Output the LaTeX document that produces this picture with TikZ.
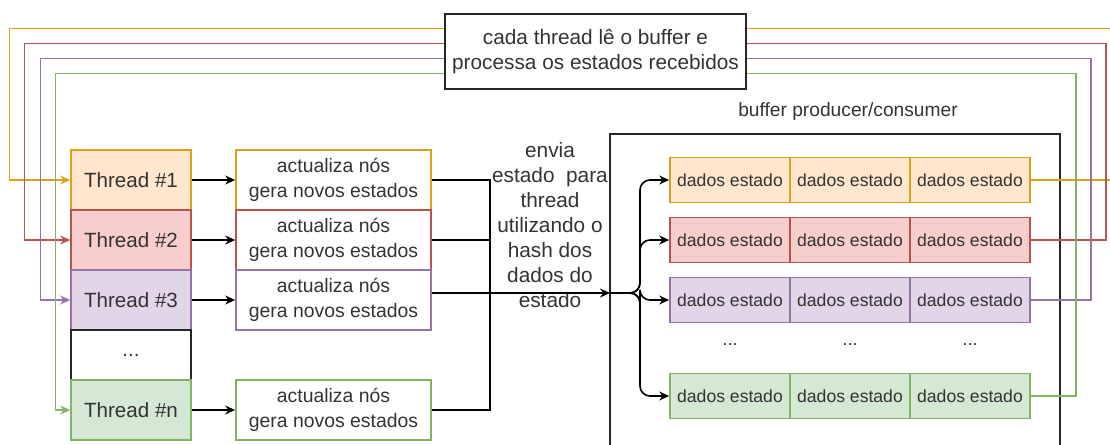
\documentclass[tikz,border=0pt]{standalone}
\usepackage{fontspec}
\setmainfont{Liberation Sans}
\usetikzlibrary{arrows.meta,positioning,calc}
\definecolor{tyel}{HTML}{D9A21B}
\definecolor{tyelf}{HTML}{FFE6CC}
\definecolor{tred}{HTML}{B85450}
\definecolor{tredf}{HTML}{F8CECC}
\definecolor{tpur}{HTML}{9673A6}
\definecolor{tpurf}{HTML}{E1D5E7}
\definecolor{tgrn}{HTML}{82B366}
\definecolor{tgrnf}{HTML}{D5E8D4}
\definecolor{tink}{HTML}{333333}
\tikzset{
  >={Stealth[length=5pt,width=4.5pt]},
  tbox/.style={draw, line width=0.8pt, minimum width=60pt, minimum height=30pt,
               inner sep=0pt, text=tink, font=\fontsize{10.3}{12.5}\selectfont},
  abox/.style={draw, fill=white, line width=0.8pt, minimum width=97.5pt,
               minimum height=30pt, inner sep=0pt, align=center, text=tink,
               font=\fontsize{9.7}{12.5}\selectfont},
  cell/.style={draw, line width=0.8pt, minimum width=60pt, minimum height=22.5pt,
               inner sep=0pt, text=tink, font=\fontsize{8.8}{10}\selectfont},
  note/.style={text=tink, align=center, font=\fontsize{10.4}{12.5}\selectfont},
  flow/.style={->, black, line width=0.8pt},
  link/.style={black, line width=0.8pt},
  fback/.style={line width=0.7pt},
}
\begin{document}
\begin{tikzpicture}[x=0.5pt,y=-0.5pt]
  \useasboundingbox (0,0) rectangle (1110,445);
  \clip (0,0) rectangle (1110,445);

  % leitura do buffer
  \node[note, draw=black!85, line width=0.8pt, minimum width=150.5pt, minimum height=37.5pt,
        inner sep=0pt] (le) at (595.5,51.5) {cada thread lê o buffer e\\processa os estados recebidos};

  % threads
  \node[tbox, draw=tyel, fill=tyelf] (t1) at (131,180) {Thread \#1};
  \node[tbox, draw=tred, fill=tredf] (t2) at (131,240) {Thread \#2};
  \node[tbox, draw=tpur, fill=tpurf] (t3) at (131,300) {Thread \#3};
  \node[tbox, draw=black!85, minimum height=25pt] (td) at (131,355) {...};
  \node[tbox, draw=tgrn, fill=tgrnf] (tn) at (131,410) {Thread \#n};

  % trabalho de cada thread
  \node[abox, draw=tyel] (a1) at (333.5,180) {actualiza nós\\gera novos estados};
  \node[abox, draw=tred] (a2) at (333.5,240) {actualiza nós\\gera novos estados};
  \node[abox, draw=tpur] (a3) at (333.5,300) {actualiza nós\\gera novos estados};
  \node[abox, draw=tgrn] (an) at (333.5,410) {actualiza nós\\gera novos estados};

  \foreach \k in {1,2,3,n}
    \draw[flow] (t\k) -- (a\k);

  \node[note] (envia) at (550,225) {envia\\estado\ \ para\\thread\\utilizando o\\hash dos\\dados do\\estado};

  % buffer
  \node[draw=black!85, line width=0.8pt, minimum width=225pt, minimum height=170pt,
        inner sep=0pt] (buf) at (835,304) {};
  \node[text=tink, font=\fontsize{9.6}{11}\selectfont] (buflbl) at (848,112) {buffer producer/consumer};

  \foreach \k/\y/\c/\f in {1/180/tyel/tyelf, 2/240/tred/tredf, 3/300/tpur/tpurf, n/396/tgrn/tgrnf} {
    \node[cell, draw=\c, fill=\f] (c\k-1) at (730,\y) {dados estado};
    \node[cell, draw=\c, fill=\f] (c\k-2) at (850,\y) {dados estado};
    \node[cell, draw=\c, fill=\f] (c\k-3) at (970,\y) {dados estado};
  }
  \node[text=tink, font=\small] (d1) at (730,345) {...};
  \node[text=tink, font=\small] (d2) at (850,345) {...};
  \node[text=tink, font=\small] (d3) at (970,345) {...};

  % envio dos estados para o buffer
  \coordinate (bus) at (490,0);
  \coordinate (hub) at (610,293);
  \coordinate (fork) at (640,293);
  \draw[link] (a1.east) -| (bus |- an.east) -- (an.east);
  \draw[link] (a2.east) -- (bus |- a2.east);
  \draw[flow] (a3.east |- hub) -- (hub);
  \foreach \k in {1,2,3,n}
    \draw[flow, rounded corners=5pt] (hub) -| (fork |- c\k-1.west) -- (c\k-1.west);

  % retorno buffer -> leitura -> threads
  \foreach \k/\dy/\dx/\ex/\c in {1/15/61/374/tyel, 2/30/46/359/tred, 3/45/30/344/tpur, n/60/15/329/tgrn} {
    \coordinate (li\k) at ($(le.north west)+(0,\dy)$);
    \coordinate (ri\k) at ($(le.north east)+(0,\dy)$);
    \draw[fback, \c] (c\k-3.east) -| ($(ri\k)+(\ex,0)$) -- (ri\k);
    \draw[fback, \c, -{Stealth[length=5pt,width=4.5pt]}] (li\k) -| ($(t\k.west)-(\dx,0)$) -- (t\k.west);
  }
\end{tikzpicture}
\end{document}
